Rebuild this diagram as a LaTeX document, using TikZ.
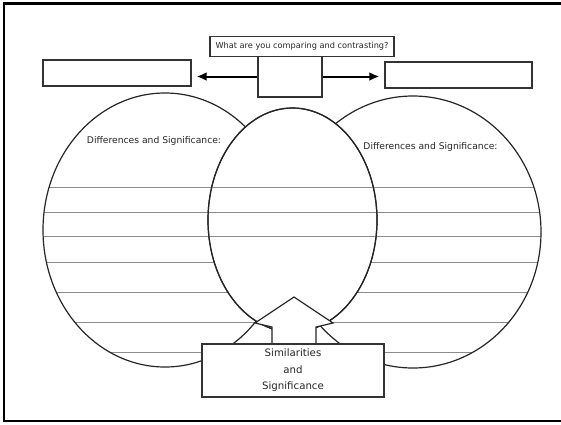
\documentclass[tikz,border=0pt]{standalone}
\usepackage{fontspec}
\setmainfont{DejaVu Sans}
\usetikzlibrary{arrows.meta}
\tikzset{
  box/.style={draw=black!80,line width=1.4pt,fill=white,inner sep=0pt},
  ring/.style={draw=black!85,line width=1.2pt},
  rule/.style={draw=black!45,line width=0.8pt},
  arr/.style={line width=2pt,-{Latex[length=10pt,width=9pt]},shorten >=5pt},
  lbl/.style={font=\fontsize{9.2}{10}\selectfont,text=black!85}
}
\begin{document}
\begin{tikzpicture}[x=1pt,y=-1pt]
\useasboundingbox[fill=white](0,0)rectangle(561,424);
\draw[line width=2.5pt](561,3.5)--(4,3.5)--(4,421)--(561,421);
\fill[white](165,230)ellipse[x radius=122,y radius=137];
\fill[white](413,232)ellipse[x radius=128,y radius=136];
\begin{scope}
\clip(165,230)ellipse[x radius=122,y radius=137](413,232)ellipse[x radius=128,y radius=136];
\foreach \y in {187,212,236,262,292,322,352}\draw[rule](30,\y)--(550,\y);
\end{scope}
\draw[ring](165,230)ellipse[x radius=122,y radius=137];
\draw[ring](413,232)ellipse[x radius=128,y radius=136];
\draw[ring,fill=white](292.5,220)ellipse[x radius=84.5,y radius=112];
\begin{scope}
\clip(292.5,220)ellipse[x radius=84.5,y radius=112];
\foreach \y in {187,212,236}\draw[rule](200,\y)--(380,\y);
\end{scope}
\draw[ring](292.5,220)ellipse[x radius=84.5,y radius=112];
\draw[ring,fill=white](272,344)--(272,327)--(255,323)--(294,297)--(333,323)--(316,327)--(316,344);
\node[box,minimum width=182pt,minimum height=53pt,align=center,text=black!85,font=\fontsize{10.2}{16.5}\selectfont](sim)at(293,370.5){Similarities\\and\\Significance};
\node[box,minimum width=148pt,minimum height=26pt](lbox)at(117,73){};
\node[box,minimum width=147pt,minimum height=26pt](rbox)at(458.5,75){};
\node[box,minimum width=64pt,minimum height=41pt](mid)at(290,76.5){};
\node[box,minimum width=184pt,minimum height=19.5pt,text=black!85,font=\fontsize{8.2}{9}\selectfont](title)at(302,46.5){What are you comparing and contrasting?};
\draw[arr](mid.west)--(mid.west-|lbox.east);
\draw[arr](mid.east)--(mid.east-|rbox.west);
\node[lbl](difl)at(154,141){Differences and Significance:};
\node[lbl](difr)at(430.5,147){Differences and Significance:};
\end{tikzpicture}
\end{document}
